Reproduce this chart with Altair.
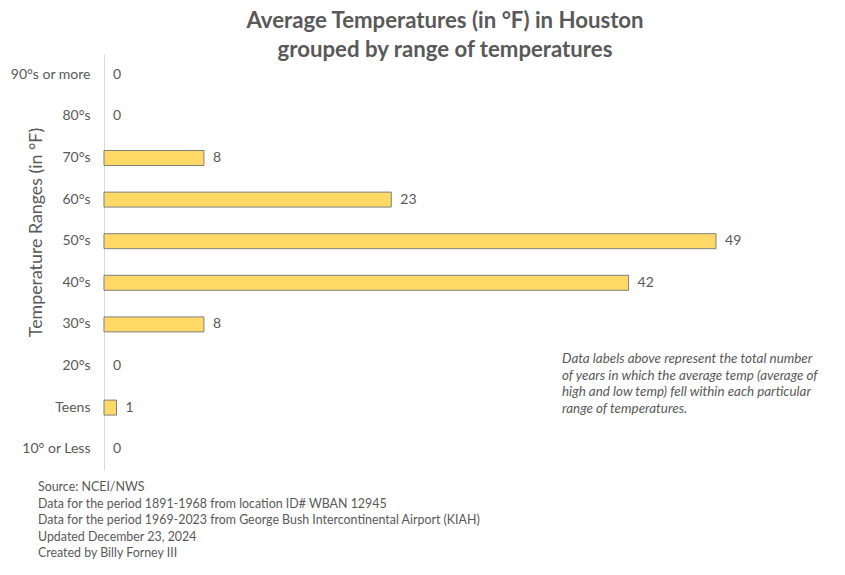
import altair as alt
import pandas as pd

categories = ["90°s or more", "80°s", "70°s", "60°s", "50°s", "40°s", "30°s", "20°s", "Teens", "10° or Less"]
counts = [0, 0, 8, 23, 49, 42, 8, 0, 1, 0]

title_lines = ["Average Temperatures (in °F) in Houston", "grouped by range of temperatures"]
note_lines = [
    "Data labels above represent the total number",
    "of years in which the average temp (average of",
    "high and low temp) fell within each particular",
    "range of temperatures.",
]
footer_lines = [
    "Source: NCEI/NWS",
    "Data for the period 1891-1968 from location ID# WBAN 12945",
    "Data for the period 1969-2023 from George Bush Intercontinental Airport (KIAH)",
    "Updated December 23, 2024",
    "Created by Billy Forney III",
]

FONT = "Lato"
GRAY = "#595959"

df = pd.DataFrame({"cat": categories, "n": counts})

W, H = 700, 416

x = alt.X("n:Q", scale=alt.Scale(domain=[0, W / 12.49]), axis=None)
y = alt.Y(
    "cat:N",
    sort=categories,
    scale=alt.Scale(paddingInner=0.64, paddingOuter=0.32),
    axis=alt.Axis(
        title="Temperature Ranges (in °F)",
        titleFont=FONT,
        titleFontSize=17.8,
        titleFontWeight="normal",
        titleColor=GRAY,
        titleX=-59,
        titleY=178,
        labelFont=FONT,
        labelFontSize=14,
        labelColor=GRAY,
        labelPadding=14,
        ticks=False,
        domainColor="#d9d9d9",
        grid=False,
    ),
)

base = alt.Chart(df)
bars = base.transform_filter("datum.n > 0").mark_bar(
    color="#FFD966", stroke="#7f7f7f", strokeWidth=1
).encode(x=x, y=y)
labels = base.mark_text(align="left", dx=9, font=FONT, fontSize=14, color=GRAY).encode(
    x=x, y=y, text="n:Q"
)

title1 = alt.Chart(pd.DataFrame({"t": [title_lines[0]]})).mark_text(
    font=FONT, fontSize=22.2, fontWeight="bold", color=GRAY, align="center",
    baseline="alphabetic",
).encode(x=alt.value(341), y=alt.value(-26.5), text="t")

title2 = alt.Chart(pd.DataFrame({"t": [title_lines[1]]})).mark_text(
    font=FONT, fontSize=22.2, fontWeight="bold", color=GRAY, align="center",
    baseline="alphabetic",
).encode(x=alt.value(341), y=alt.value(2.5), text="t")

note = alt.Chart(pd.DataFrame({"t": [note_lines]})).mark_text(
    font=FONT, fontSize=13.4, fontStyle="italic", color=GRAY, align="left",
    baseline="middle", lineHeight=16.7,
).encode(x=alt.value(458), y=alt.value(305), text="t")

footer = alt.Chart(pd.DataFrame({"t": [footer_lines]})).mark_text(
    font=FONT, fontSize=12.4, color=GRAY, align="left",
    baseline="middle", lineHeight=16.6,
).encode(x=alt.value(-66), y=alt.value(433), text="t")

chart = (
    alt.layer(bars, labels, title1, title2, note, footer)
    .properties(
        width=W,
        height=H,
        background="white",
        autosize=alt.AutoSizeParams(type="none"),
        padding={"left": 96, "top": 46, "right": 33, "bottom": 100},
    )
    .configure_view(strokeWidth=0, stroke="transparent")
)

chart.save("out.html", embed_options={"renderer": "svg", "actions": False})
